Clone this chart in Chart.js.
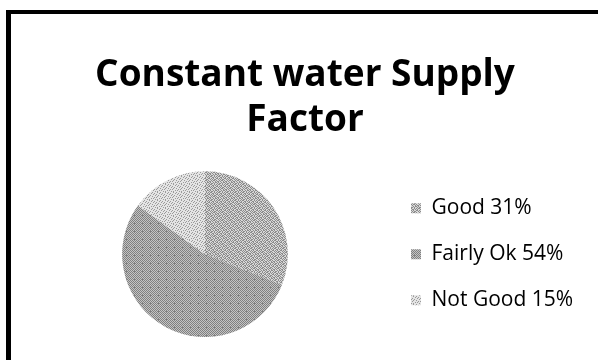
<!DOCTYPE html>
<html>
<head>
<meta charset="utf-8">
<title>Constant water Supply Factor</title>
<script src="https://cdn.jsdelivr.net/npm/chart.js@4.4.1/dist/chart.umd.min.js"></script>
<style>
    html, body { margin: 0; padding: 0; background: #fff; }
    #wrap { width: 598px; height: 360px; position: relative; }
</style>
</head>
<body>
<div id="wrap"><canvas id="pie"></canvas></div>
<script>
// Chart data
const categories = ["Good 31%", "Fairly Ok 54%", "Not Good 15%"];
const shares = [31, 54, 15];
const titleLines = ["Constant water Supply", "Factor"];

// Small bitmap tiles used as grainy fills for the slices
function makePattern(rows, dark, light) {
    const c = document.createElement("canvas");
    c.width = rows[0].length;
    c.height = rows.length;
    const g = c.getContext("2d");
    rows.forEach((row, y) => {
        for (let x = 0; x < row.length; x++) {
            g.fillStyle = row[x] === "1" ? dark : light;
            g.fillRect(x, y, 1, 1);
        }
    });
    return g.createPattern(c, "repeat");
}

const goodFill = makePattern([
    "10110010",
    "01001101",
    "11010100",
    "00101011",
    "10010110",
    "01101001",
    "10100101",
    "01011010"
], "#8c8c8c", "#d8d8d8");

const okFill = makePattern([
    "10101010",
    "01010101",
    "10101010",
    "01010101",
    "10101010",
    "01010101",
    "10101010",
    "01010111"
], "#808080", "#c4c4c4");

const notGoodFill = makePattern([
    "10000100",
    "00100001",
    "01001000",
    "00010010",
    "10000100",
    "00101000",
    "01000001",
    "00010100"
], "#9a9a9a", "#e4e4e4");

// Frame lines along the left and top edges
const framePlugin = {
    id: "frame",
    beforeDraw(chart) {
        const ctx = chart.ctx;
        ctx.save();
        ctx.fillStyle = "#fff";
        ctx.fillRect(0, 0, chart.width, chart.height);
        ctx.fillStyle = "#000";
        ctx.fillRect(6, 10, chart.width - 6, 4);
        ctx.fillRect(6, 10, 5, chart.height - 10);
        ctx.restore();
    }
};

// Keep the legend column a fixed width so the pie sits left of centre
const LEGEND_WIDTH = 200;
const legendWidthPlugin = {
    id: "legendWidth",
    afterInit(chart) {
        const legend = chart.legend;
        if (!legend) return;
        const baseFit = legend.fit;
        legend.fit = function () {
            baseFit.call(this);
            this.width = LEGEND_WIDTH;
        };
    }
};

new Chart(document.getElementById("pie"), {
    type: "pie",
    data: {
        labels: categories,
        datasets: [{
            data: shares,
            backgroundColor: [goodFill, okFill, notGoodFill],
            borderWidth: 0
        }]
    },
    options: {
        responsive: true,
        maintainAspectRatio: false,
        animation: false,
        layout: {
            padding: { left: 24, right: 12, top: 0, bottom: 23 }
        },
        plugins: {
            title: {
                display: true,
                text: titleLines,
                color: "#000",
                font: { family: "Open Sans", size: 37, weight: "bold", lineHeight: 1.22 },
                padding: { top: 53, bottom: 28 }
            },
            legend: {
                position: "right",
                fullSize: false,
                labels: {
                    color: "#000",
                    font: { family: "Open Sans", size: 21 },
                    boxWidth: 10,
                    boxHeight: 10,
                    padding: 25
                }
            },
            tooltip: { enabled: false }
        }
    },
    plugins: [framePlugin, legendWidthPlugin]
});
</script>
</body>
</html>
